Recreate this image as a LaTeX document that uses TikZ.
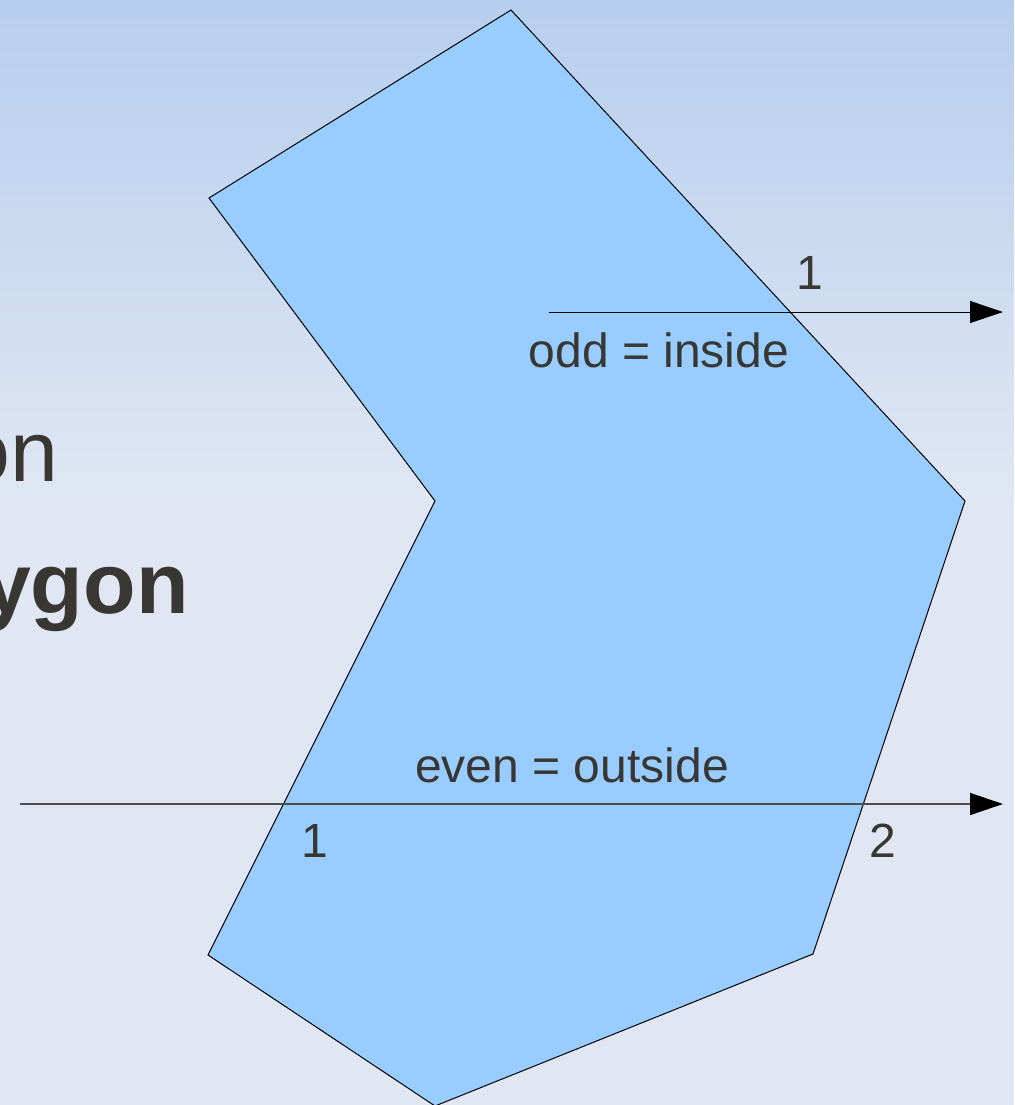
\documentclass[tikz,border=0pt]{standalone}
\usepackage{fontspec}
\setmainfont{Liberation Sans}
\usetikzlibrary{arrows.meta}
\definecolor{bgtop}{RGB}{182,206,238}
\definecolor{bgbot}{RGB}{224,231,243}
\definecolor{polyfill}{RGB}{153,204,255}
\definecolor{ink}{RGB}{56,55,52}
\tikzset{
  label/.style={text=ink, font=\fontsize{24pt}{28pt}\selectfont, inner sep=0pt},
  title/.style={text=ink, font=\fontsize{43pt}{50pt}\selectfont, inner sep=0pt},
  ray/.style={line width=0.5pt, -{Triangle[length=16.5pt,width=11pt,color=black,fill=black]}},
  shape outline/.style={draw=black, line width=0.5pt, fill=polyfill, line join=miter}
}
\begin{document}
\begin{tikzpicture}[x=0.5pt,y=-0.5pt]
  % page with its soft vertical gradient
  \useasboundingbox (0,0) rectangle (1014,1105);
  \fill[bgbot] (0,0) rectangle (1014,1105);
  \shade[top color=bgtop, bottom color=bgbot] (0,0) rectangle (1014,500);

  % cut-off slide heading at the left
  \node[title, anchor=base east] (head1) at (59,481) {on};
  \node[title, anchor=base east, font=\fontsize{43pt}{50pt}\selectfont\bfseries] (head2) at (189,613) {ygon};

  % the concave polygon
  \coordinate (pTop) at (511,10);
  \coordinate (pRight) at (965,501);
  \coordinate (pRB) at (813,954);
  \coordinate (pBot) at (435,1106);
  \coordinate (pLB) at (208,955);
  \coordinate (pIn) at (435,501);
  \coordinate (pLT) at (209,198);
  \draw[shape outline] (pTop) -- (pRight) -- (pRB) -- (pBot) -- (pLB) -- (pIn) -- (pLT) -- cycle;

  % ray starting inside: one crossing
  \coordinate (r1s) at (549,312);
  \coordinate (r1e) at (1003,312);
  \draw[ray, draw=black] (r1s) -- (r1e);
  \node[label, anchor=base] (c1) at (810,289) {1};
  \node[label, anchor=base] (odd) at (659,367) {odd = inside};

  % ray starting outside: two crossings
  \coordinate (r2s) at (20,804);
  \coordinate (r2e) at (1003,804);
  \draw[ray, draw=black!70, line width=0.7pt] (r2s) -- (r2e);
  \node[label, anchor=base] (even) at (572,782) {even = outside};
  \node[label, anchor=base] (c2a) at (315,857) {1};
  \node[label, anchor=base] (c2b) at (883,857) {2};
\end{tikzpicture}
\end{document}
